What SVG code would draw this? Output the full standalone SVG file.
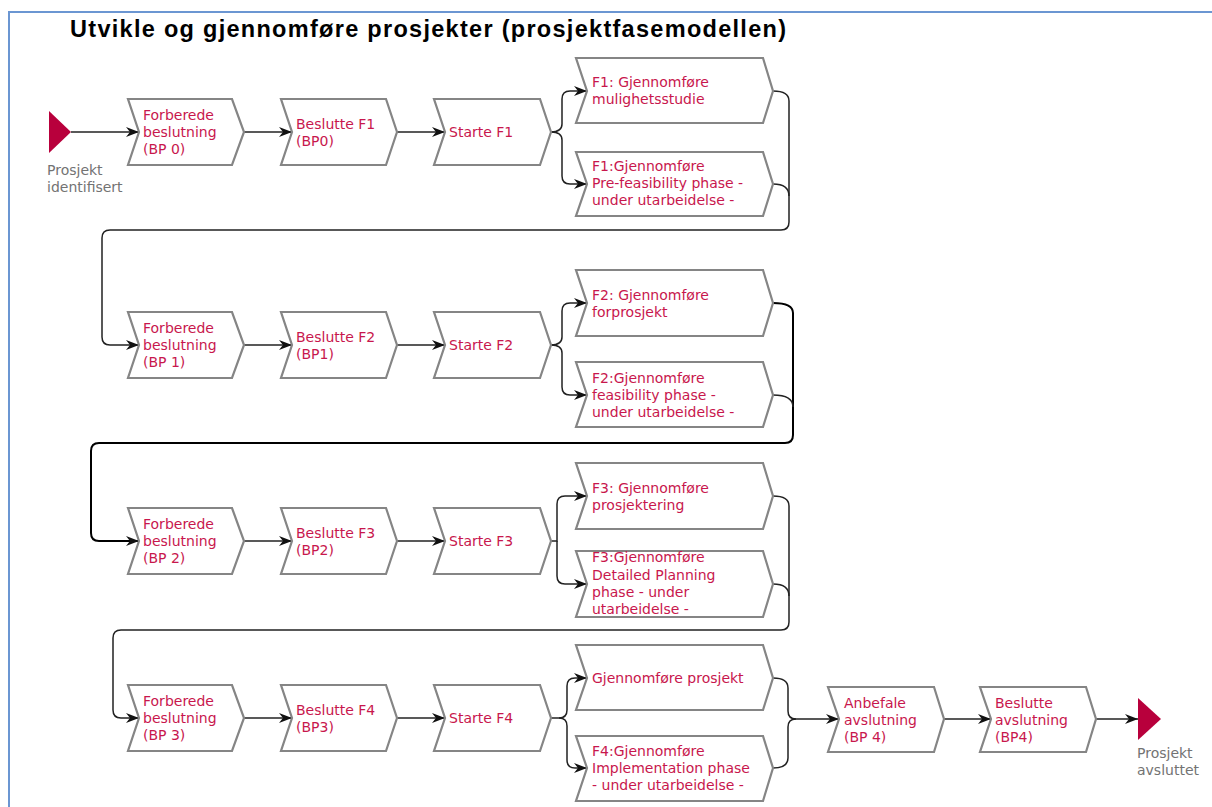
<svg xmlns="http://www.w3.org/2000/svg" width="1212" height="807" viewBox="0 0 1212 807">
<style>
.box{fill:#fff;stroke:#858585;stroke-width:2.2;stroke-linejoin:miter}
.t{font-family:"DejaVu Sans",sans-serif;font-size:14px;fill:#c8174d}
.g{font-family:"DejaVu Sans",sans-serif;font-size:14px;fill:#737373}
.c{fill:none;stroke:#222;stroke-width:1.5}
.ca{fill:none;stroke:#222;stroke-width:1.5;marker-end:url(#arr)}
.ev{fill:#b8003c}
</style>
<defs>
<marker id="arr" markerUnits="userSpaceOnUse" markerWidth="14" markerHeight="11" refX="13" refY="5" orient="auto">
<path d="M0,0 L13,5 L0,10 L4,5 Z" fill="#111"/>
</marker>
</defs>
<rect x="0" y="0" width="1212" height="807" fill="#fff"/>
<path d="M9,807 V12 H1212" fill="none" stroke="#6b96d2" stroke-width="2"/>
<text x="70" y="37" font-family="Liberation Sans, Arial, sans-serif" font-weight="bold" font-size="23.5" textLength="716" lengthAdjust="spacing" fill="#000">Utvikle og gjennomføre prosjekter (prosjektfasemodellen)</text>

<g id="connectors">
<path class="ca" d="M71,132 H139"/>
<path class="ca" d="M244,132 H292"/>
<path class="ca" d="M397,132 H445"/>
<path class="ca" d="M551,132 Q562,132 562,124 V99 Q562,91 570,91 H587"/>
<path class="ca" d="M551,132 Q562,132 562,140 V176 Q562,184 570,184 H587"/>
<path class="ca" d="M773,91 Q789,91 789,101 V222 Q789,230 781,230 H110 Q102,230 102,238 V337 Q102,345 110,345 H139"/>
<path class="c" d="M773,184 Q789,184 789,196"/>

<path class="ca" d="M244,345 H292"/>
<path class="ca" d="M397,345 H445"/>
<path class="ca" d="M551,345 Q562,345 562,337 V311 Q562,303 570,303 H587"/>
<path class="ca" d="M551,345 Q562,345 562,353 V387 Q562,395 570,395 H587"/>
<path class="ca" style="stroke:#000;stroke-width:2" d="M773,303 Q793,303 793,313 V435 Q793,443 785,443 H99 Q91,443 91,451 V533 Q91,541 99,541 H139"/>
<path class="c" d="M773,395 Q793,395 793,407"/>

<path class="ca" d="M244,541 H292"/>
<path class="ca" d="M397,541 H445"/>
<path class="ca" d="M551,541 H557 V504 Q557,496 565,496 H587"/>
<path class="ca" d="M557,541 V576 Q557,584 565,584 H587"/>
<path class="ca" d="M773,496 Q789,496 789,506 V622 Q789,630 781,630 H121 Q113,630 113,638 V710 Q113,718 121,718 H139"/>
<path class="c" d="M773,584 Q789,584 789,596"/>

<path class="ca" d="M244,718 H292"/>
<path class="ca" d="M397,718 H445"/>
<path class="ca" d="M551,718 H559 Q567,718 567,710 V686 Q567,678 575,678 H587"/>
<path class="ca" d="M559,718 Q567,718 567,726 V760 Q567,768 575,768 H587"/>
<path class="ca" d="M773,678 Q788,678 788,688 V711 Q788,719 796,719 H839"/>
<path class="c" d="M773,768 Q788,768 788,758 V727 Q788,719 796,719"/>
<path class="ca" d="M944,719 H991"/>
<path class="ca" d="M1096,719 H1138"/>
</g>

<g id="start">
<path class="ev" d="M49,111 L71,132 L49,153 Z"/>
<text class="g" x="47" y="175">Prosjekt</text>
<text class="g" x="47" y="192">identifisert</text>
</g>

<g id="n1a"><path class="box" d="M128,99 H232 L244,132 L232,165 H128 L139,132 Z"/>
<text class="t" x="143" y="120">Forberede</text><text class="t" x="143" y="137">beslutning</text><text class="t" x="143" y="154">(BP 0)</text></g>
<g id="n1b"><path class="box" d="M281,99 H386 L397,132 L386,165 H281 L292,132 Z"/>
<text class="t" x="296" y="128.5">Beslutte F1</text><text class="t" x="296" y="145.5">(BP0)</text></g>
<g id="n1c"><path class="box" d="M434,99 H540 L551,132 L540,165 H434 L445,132 Z"/>
<text class="t" x="449" y="137">Starte F1</text></g>
<g id="n1d"><path class="box" d="M576,58 H763 L773,91 L763,123 H576 L587,91 Z"/>
<text class="t" x="592" y="87">F1: Gjennomføre</text><text class="t" x="592" y="104">mulighetsstudie</text></g>
<g id="n1e"><path class="box" d="M576,152 H763 L773,184 L763,216 H576 L587,184 Z"/>
<text class="t" x="592" y="171">F1:Gjennomføre</text><text class="t" x="592" y="188">Pre-feasibility phase -</text><text class="t" x="592" y="205">under utarbeidelse -</text></g>

<g id="n2a"><path class="box" d="M128,312 H232 L244,345 L232,378 H128 L139,345 Z"/>
<text class="t" x="143" y="333">Forberede</text><text class="t" x="143" y="350">beslutning</text><text class="t" x="143" y="367">(BP 1)</text></g>
<g id="n2b"><path class="box" d="M281,312 H386 L397,345 L386,378 H281 L292,345 Z"/>
<text class="t" x="296" y="341.5">Beslutte F2</text><text class="t" x="296" y="358.5">(BP1)</text></g>
<g id="n2c"><path class="box" d="M434,312 H540 L551,345 L540,378 H434 L445,345 Z"/>
<text class="t" x="449" y="350">Starte F2</text></g>
<g id="n2d"><path class="box" d="M576,270 H763 L773,303 L763,336 H576 L587,303 Z"/>
<text class="t" x="592" y="299.5">F2: Gjennomføre</text><text class="t" x="592" y="316.5">forprosjekt</text></g>
<g id="n2e"><path class="box" d="M576,362 H763 L773,395 L763,427 H576 L587,395 Z"/>
<text class="t" x="592" y="383">F2:Gjennomføre</text><text class="t" x="592" y="400">feasibility phase -</text><text class="t" x="592" y="417">under utarbeidelse -</text></g>

<g id="n3a"><path class="box" d="M128,508 H232 L244,541 L232,574 H128 L139,541 Z"/>
<text class="t" x="143" y="529">Forberede</text><text class="t" x="143" y="546">beslutning</text><text class="t" x="143" y="563">(BP 2)</text></g>
<g id="n3b"><path class="box" d="M281,508 H386 L397,541 L386,574 H281 L292,541 Z"/>
<text class="t" x="296" y="537.5">Beslutte F3</text><text class="t" x="296" y="554.5">(BP2)</text></g>
<g id="n3c"><path class="box" d="M434,508 H540 L551,541 L540,574 H434 L445,541 Z"/>
<text class="t" x="449" y="546">Starte F3</text></g>
<g id="n3d"><path class="box" d="M576,463 H763 L773,496 L763,529 H576 L587,496 Z"/>
<text class="t" x="592" y="492.5">F3: Gjennomføre</text><text class="t" x="592" y="509.5">prosjektering</text></g>
<g id="n3e"><path class="box" d="M576,551 H763 L773,584 L763,617 H576 L587,584 Z"/>
<text class="t" x="592" y="562">F3:Gjennomføre</text><text class="t" x="592" y="580">Detailed Planning</text><text class="t" x="592" y="597">phase - under</text><text class="t" x="592" y="614">utarbeidelse -</text></g>

<g id="n4a"><path class="box" d="M128,685 H232 L244,718 L232,751 H128 L139,718 Z"/>
<text class="t" x="143" y="706">Forberede</text><text class="t" x="143" y="723">beslutning</text><text class="t" x="143" y="740">(BP 3)</text></g>
<g id="n4b"><path class="box" d="M281,685 H386 L397,718 L386,751 H281 L292,718 Z"/>
<text class="t" x="296" y="714.5">Beslutte F4</text><text class="t" x="296" y="731.5">(BP3)</text></g>
<g id="n4c"><path class="box" d="M434,685 H540 L551,718 L540,751 H434 L445,718 Z"/>
<text class="t" x="449" y="723">Starte F4</text></g>
<g id="n4d"><path class="box" d="M576,645 H763 L773,678 L763,710 H576 L587,678 Z"/>
<text class="t" x="592" y="683">Gjennomføre prosjekt</text></g>
<g id="n4e"><path class="box" d="M576,736 H763 L773,768 L763,801 H576 L587,768 Z"/>
<text class="t" x="592" y="756">F4:Gjennomføre</text><text class="t" x="592" y="773">Implementation phase</text><text class="t" x="592" y="790">- under utarbeidelse -</text></g>

<g id="n5a"><path class="box" d="M828,687 H934 L944,719 L934,752 H828 L839,719 Z"/>
<text class="t" x="844" y="707.5">Anbefale</text><text class="t" x="844" y="724.5">avslutning</text><text class="t" x="844" y="741.5">(BP 4)</text></g>
<g id="n5b"><path class="box" d="M980,687 H1086 L1096,719 L1086,752 H980 L991,719 Z"/>
<text class="t" x="995" y="707.5">Beslutte</text><text class="t" x="995" y="724.5">avslutning</text><text class="t" x="995" y="741.5">(BP4)</text></g>

<g id="end">
<path class="ev" d="M1138,698 L1161,719 L1138,740 Z"/>
<text class="g" x="1137" y="758">Prosjekt</text>
<text class="g" x="1137" y="775">avsluttet</text>
</g>
</svg>
